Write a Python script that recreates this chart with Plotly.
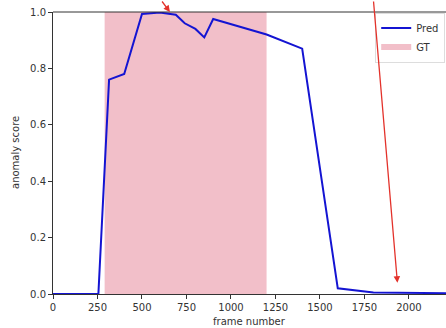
import plotly.graph_objects as go

frames = [0, 255, 315, 400, 500, 600, 690, 740, 800, 850, 900, 1200, 1400, 1600, 1800, 2000, 2210]
scores = [0.0, 0.0, 0.76, 0.78, 0.993, 0.998, 0.99, 0.96, 0.94, 0.91, 0.975, 0.92, 0.87, 0.02, 0.005, 0.003, 0.003]
gt_start, gt_end = 290, 1200
x_ticks = [0, 250, 500, 750, 1000, 1250, 1500, 1750, 2000]
y_ticks = [0.0, 0.2, 0.4, 0.6, 0.8, 1.0]
arrow_targets = [(657, 1.0), (1935, 0.04)]

font = dict(family="DejaVu Sans", size=10, color="#333333")

fig = go.Figure()
fig.add_trace(go.Scatter(
    x=[gt_start, gt_end, gt_end, gt_start, gt_start], y=[0, 0, 1, 1, 0],
    fill="toself", fillcolor="rgba(240,180,192,0.85)", mode="none", name="GT"))
fig.add_trace(go.Scatter(x=frames, y=scores, mode="lines", name="Pred",
                         line=dict(color="#1414d2", width=2)))

# top spine
fig.add_shape(type="line", xref="x domain", yref="y domain", x0=0, x1=1, y0=1, y1=1,
              line=dict(color="#333333", width=1))

offsets = [(-9, -14), (-24, -285)]
for (tx, ty), (ax, ay) in zip(arrow_targets, offsets):
    fig.add_annotation(x=tx, y=ty, ax=ax, ay=ay, showarrow=True, text="",
                       arrowhead=2, arrowsize=1, arrowwidth=1.3, arrowcolor="#e3322b")

# axis titles
fig.add_annotation(text="frame number", xref="paper", yref="paper", x=0.5, y=0,
                   yshift=-27, xanchor="center", yanchor="middle", showarrow=False, font=font)
fig.add_annotation(text="anomaly score", xref="paper", yref="paper", x=0, y=0.5,
                   xshift=-38, xanchor="center", yanchor="middle", textangle=-90,
                   showarrow=False, font=font)

fig.update_layout(
    width=446, height=328, margin=dict(l=53, r=0, t=12, b=34, autoexpand=False),
    paper_bgcolor="white", plot_bgcolor="white", font=font,
    legend=dict(x=0.998, y=0.998, xanchor="right", yanchor="top", traceorder="reversed",
                bgcolor="white", bordercolor="#dddddd", borderwidth=1, itemwidth=30,
                tracegroupgap=0,
                font=dict(family="DejaVu Sans", size=10, color="#333333")),
)
fig.update_xaxes(range=[0, 2208], tickvals=x_ticks, ticktext=[str(v) for v in x_ticks],
                 showgrid=False, zeroline=False, showline=True, linecolor="#333333",
                 ticks="outside", ticklen=4, tickcolor="#333333", automargin=False)
fig.update_yaxes(range=[0, 1], tickvals=y_ticks, ticktext=[f"{v:.1f}" for v in y_ticks],
                 showgrid=False, zeroline=False, showline=True, linecolor="#333333",
                 ticks="outside", ticklen=4, tickcolor="#333333", automargin=False)

fig.write_html("out.html", config={"displayModeBar": False},
               post_script="document.body.style.margin='0';document.body.style.overflow='hidden';")
